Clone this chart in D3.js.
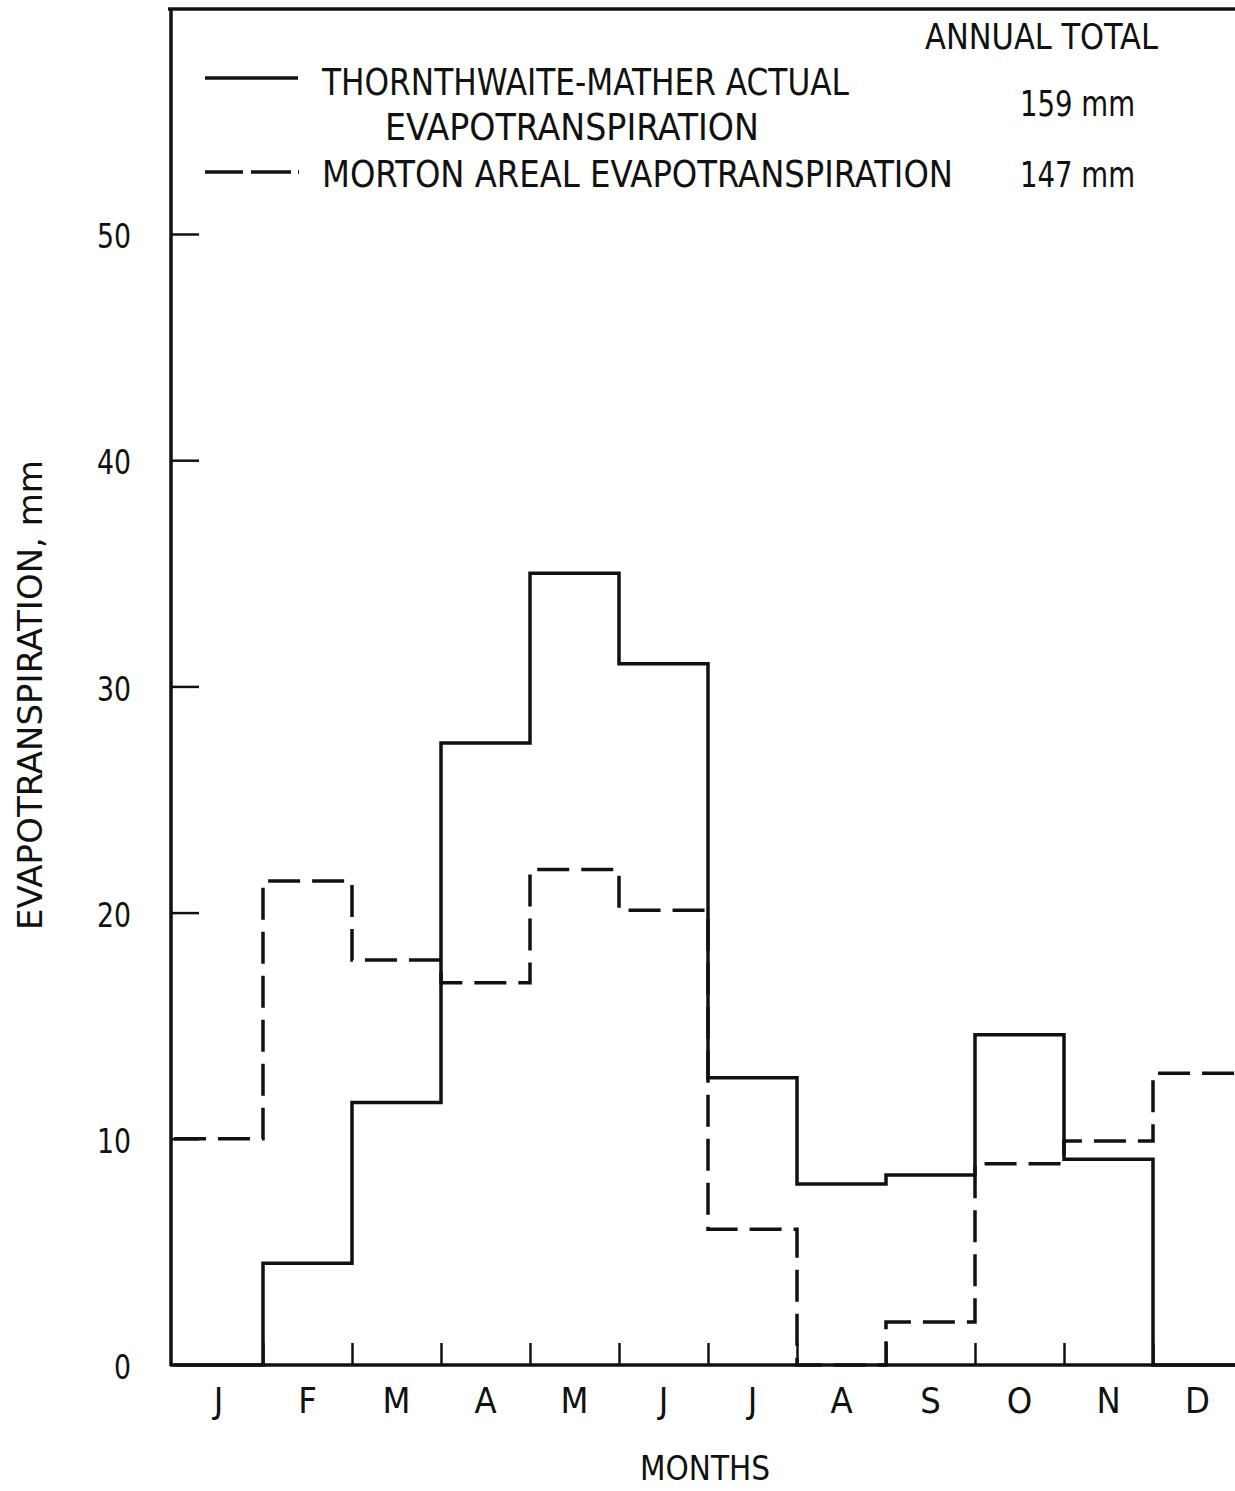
<!DOCTYPE html>
<html><head><meta charset="utf-8">
<script src="https://cdn.jsdelivr.net/npm/d3@7"></script>
<style>
body{margin:0;background:#fff;}
text{font-family:"Liberation Sans Narrow","DejaVu Sans Condensed","Liberation Sans",sans-serif;fill:#111;}
</style></head>
<body>
<svg id="chart" width="1235" height="1491"></svg>
<script>
const months = ["J","F","M","A","M","J","J","A","S","O","N","D"];
const thornthwaite = [0, 4.5, 11.6, 27.5, 35.0, 31.0, 12.7, 8.0, 8.4, 14.6, 9.1, 0];
const morton = [10.0, 21.4, 17.9, 16.9, 21.9, 20.1, 6.0, 0, 1.9, 8.9, 9.9, 12.9];
const yTicks = [0, 10, 20, 30, 40, 50];
const legendNames = ["THORNTHWAITE-MATHER ACTUAL", "EVAPOTRANSPIRATION", "MORTON AREAL EVAPOTRANSPIRATION"];
const annualTotals = ["159 mm", "147 mm"];

const svg = d3.select("#chart");
const x = d3.scaleLinear().domain([0, 12]).range([174, 1242]);
const y = d3.scaleLinear().domain([0, 50]).range([1365, 234]);
const band = d3.scaleBand().domain(d3.range(12)).range([174, 1242]);
const ink = "#111";

// frame: top and left border lines, bottom axis line
svg.append("line").attr("x1", 168).attr("x2", 1235).attr("y1", 9).attr("y2", 9)
  .attr("stroke", ink).attr("stroke-width", 3.5);
svg.append("line").attr("x1", 171).attr("x2", 171).attr("y1", 8).attr("y2", 1366)
  .attr("stroke", ink).attr("stroke-width", 3.5);
svg.append("line").attr("x1", 170).attr("x2", 1235).attr("y1", y(0)).attr("y2", y(0))
  .attr("stroke", ink).attr("stroke-width", 3.5);

// y axis
const yAxis = svg.append("g").attr("transform", "translate(171,0)")
  .call(d3.axisLeft(y).tickValues(yTicks).tickSizeInner(-28).tickSizeOuter(0).tickPadding(40));
yAxis.select(".domain").remove();
yAxis.selectAll(".tick line").attr("stroke", ink).attr("stroke-width", 2.5)
  .attr("display", d => d === 0 ? "none" : null);
yAxis.selectAll(".tick text").attr("font-size", 34)
  .attr("textLength", d => d === 0 ? 17 : 34).attr("lengthAdjust", "spacingAndGlyphs")
  .attr("dy", "0.4em").attr("fill", ink);

// x ticks (month boundaries)
const xAxis = svg.append("g").attr("transform", `translate(0,${y(0)})`)
  .call(d3.axisBottom(x).tickValues(d3.range(1, 12)).tickSizeInner(-22).tickSizeOuter(0).tickFormat(""));
xAxis.select(".domain").remove();
xAxis.selectAll(".tick line").attr("stroke", ink).attr("stroke-width", 2.5);

// month labels
const mAxis = svg.append("g").attr("transform", `translate(0,${y(0)})`)
  .call(d3.axisBottom(band).tickSize(0).tickPadding(22).tickFormat(i => months[i]));
mAxis.select(".domain").remove();
mAxis.selectAll(".tick text").attr("font-size", 36).attr("fill", ink);

// step lines
function stepData(vals) {
  const pts = vals.map((v, i) => [i, v]);
  pts.push([12, vals[vals.length - 1]]);
  return pts;
}
const line = d3.line().x(d => x(d[0])).y(d => y(d[1])).curve(d3.curveStepAfter);

svg.append("path").datum(stepData(morton)).attr("d", line)
  .attr("fill", "none").attr("stroke", ink).attr("stroke-width", 3.5)
  .attr("stroke-dasharray", "32,12");
svg.append("path").datum(stepData(thornthwaite)).attr("d", line)
  .attr("fill", "none").attr("stroke", ink).attr("stroke-width", 3.5);

// axis titles
svg.append("text").attr("transform", "translate(42,695) rotate(-90)")
  .attr("text-anchor", "middle").attr("font-size", 34)
  .attr("textLength", 470).attr("lengthAdjust", "spacingAndGlyphs")
  .text("EVAPOTRANSPIRATION, mm");
svg.append("text").attr("x", 705).attr("y", 1480).attr("text-anchor", "middle")
  .attr("font-size", 34).attr("textLength", 130).attr("lengthAdjust", "spacingAndGlyphs")
  .text("MONTHS");

// legend
svg.append("text").attr("x", 925).attr("y", 49).attr("font-size", 36)
  .attr("textLength", 233).attr("lengthAdjust", "spacingAndGlyphs").text("ANNUAL TOTAL");
svg.append("line").attr("x1", 205).attr("x2", 298).attr("y1", 78).attr("y2", 78)
  .attr("stroke", ink).attr("stroke-width", 3.5);
svg.append("line").attr("x1", 205).attr("x2", 299).attr("y1", 172).attr("y2", 172)
  .attr("stroke", ink).attr("stroke-width", 3.5).attr("stroke-dasharray", "38,8,40,7,2,100");
svg.append("text").attr("x", 322).attr("y", 95).attr("font-size", 37)
  .attr("textLength", 527).attr("lengthAdjust", "spacingAndGlyphs").text(legendNames[0]);
svg.append("text").attr("x", 385).attr("y", 140).attr("font-size", 37)
  .attr("textLength", 374).attr("lengthAdjust", "spacingAndGlyphs").text(legendNames[1]);
svg.append("text").attr("x", 322).attr("y", 187).attr("font-size", 37)
  .attr("textLength", 631).attr("lengthAdjust", "spacingAndGlyphs").text(legendNames[2]);
svg.append("text").attr("x", 1020).attr("y", 116).attr("font-size", 35)
  .attr("textLength", 115).attr("lengthAdjust", "spacingAndGlyphs").text(annualTotals[0]);
svg.append("text").attr("x", 1020).attr("y", 187).attr("font-size", 35)
  .attr("textLength", 115).attr("lengthAdjust", "spacingAndGlyphs").text(annualTotals[1]);
</script>
</body></html>
